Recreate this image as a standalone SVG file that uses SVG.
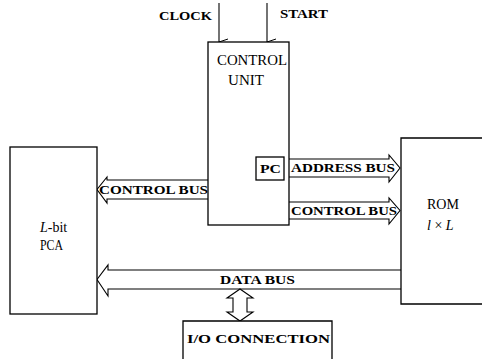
<svg xmlns="http://www.w3.org/2000/svg" width="482" height="359" viewBox="0 0 482 359">
<defs>
<marker id="ah" markerWidth="8" markerHeight="10" refX="4" refY="9" orient="auto" markerUnits="userSpaceOnUse">
<path d="M1,0 L4,9 L7,0" fill="none" stroke="#000" stroke-width="1"/>
</marker>
<style>
.box{fill:#fff;stroke:#000;stroke-width:1.3}
.bus{fill:#fff;stroke:#000;stroke-width:1.1;stroke-linejoin:miter}
.ln{stroke:#000;stroke-width:1.1;fill:none}
.b{font-family:"Liberation Serif","DejaVu Serif",serif;font-weight:bold;font-size:13px;fill:#000}
.r{font-family:"Liberation Serif","DejaVu Serif",serif;font-size:14px;fill:#000}
</style>
</defs>
<rect width="482" height="359" fill="#fff"/>
<g id="connectors">
<line class="ln" x1="219" y1="3" x2="219" y2="42" marker-end="url(#ah)"/>
<line class="ln" x1="267" y1="3" x2="267" y2="42" marker-end="url(#ah)"/>
<path class="bus" d="M289,159 L389,159 L389,155 L400,168 L389,182 L389,177 L289,177"/>
<path class="bus" d="M289,202 L389,202 L389,198 L400,210.5 L389,224 L389,219 L289,219"/>
<path class="bus" d="M208,180 L107,180 L107,177 L97,189.5 L107,203 L107,199 L208,199"/>
<path class="bus" d="M401,270 L108,270 L108,265 L97,279.5 L108,296 L108,289 L401,289"/>
<path class="bus" d="M240,289 L253,298 L247,298 L247,312 L253,312 L240,321 L227,312 L233,312 L233,298 L227,298 Z"/>
</g>
<g id="clock-label"><text class="b" x="159" y="20" font-size="12" textLength="53" lengthAdjust="spacingAndGlyphs">CLOCK</text></g>
<g id="start-label"><text class="b" x="280" y="18" font-size="12" textLength="48" lengthAdjust="spacingAndGlyphs">START</text></g>
<g id="control-unit">
<rect class="box" x="208" y="42" width="81" height="183"/>
<text class="r" x="217" y="65" textLength="70" lengthAdjust="spacingAndGlyphs">CONTROL</text>
<text class="r" x="228" y="85" textLength="36" lengthAdjust="spacingAndGlyphs">UNIT</text>
</g>
<g id="pc">
<rect class="box" x="256" y="157" width="28" height="23"/>
<text class="b" x="260" y="173" textLength="21" lengthAdjust="spacingAndGlyphs">PC</text>
</g>
<g id="pca">
<rect class="box" x="10" y="147" width="87" height="167"/>
<text class="r" x="40" y="232"><tspan font-style="italic">L</tspan>-bit</text>
<text class="r" x="40" y="250" textLength="23" lengthAdjust="spacingAndGlyphs">PCA</text>
</g>
<g id="rom">
<path class="box" d="M484,138 L401,138 L401,304 L484,304"/>
<text class="r" x="427" y="209" textLength="32" lengthAdjust="spacingAndGlyphs">ROM</text>
<text class="r" x="427" y="230" font-style="italic">l <tspan font-style="normal">×</tspan> L</text>
</g>
<g id="io">
<path class="box" d="M183,362 L183,321 L332,321 L332,362"/>
<text class="b" x="187" y="343" textLength="143" lengthAdjust="spacingAndGlyphs">I/O CONNECTION</text>
</g>
<g id="bus-labels">
<text class="b" x="291" y="172" textLength="104" lengthAdjust="spacingAndGlyphs">ADDRESS BUS</text>
<text class="b" x="291" y="215" textLength="106" lengthAdjust="spacingAndGlyphs">CONTROL BUS</text>
<text class="b" x="99" y="194" textLength="109" lengthAdjust="spacingAndGlyphs">CONTROL BUS</text>
<text class="b" x="220" y="284" textLength="75" lengthAdjust="spacingAndGlyphs">DATA BUS</text>
</g>
</svg>
